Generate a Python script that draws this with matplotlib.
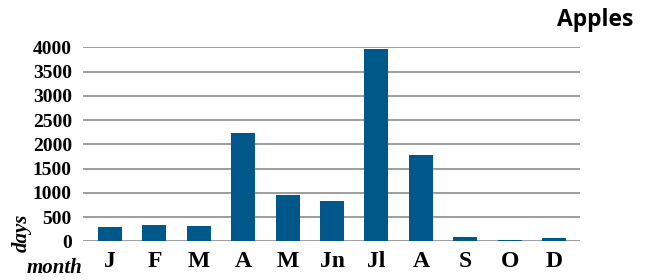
import matplotlib
matplotlib.use('Agg')
import matplotlib.pyplot as plt
import numpy as np

# data
months = ['J', 'F', 'M', 'A', 'M', 'Jn', 'Jl', 'A', 'S', 'O', 'D']
days = [300, 340, 320, 2240, 960, 840, 3970, 1780, 95, 20, 75]
yticks = [0, 500, 1000, 1500, 2000, 2500, 3000, 3500, 4000]

fig = plt.figure(figsize=(6.51, 2.8), dpi=100)
ax = fig.add_axes([83/651, 1-241.3/280, 497/651, 194/280])

x = np.arange(len(months))
ax.bar(x, days, width=0.54, color='#00578a', zorder=3)

ax.set_ylim(0, 4000)
ax.set_xlim(-0.61, len(months) - 1 + 0.586)
ax.set_yticks(yticks)
ax.set_xticks(x)
ax.set_xticklabels(months, fontfamily='Liberation Serif', fontweight='bold', fontsize=17)
for lab in ax.get_yticklabels():
    lab.set_fontfamily('Liberation Serif')
    lab.set_fontweight('bold')
    lab.set_fontsize(14)
ax.tick_params(axis='both', length=0)
ax.tick_params(axis='y', pad=8)
ax.tick_params(axis='x', pad=7)
ax.grid(axis='y', color='#8c8c8c', linewidth=1.2, zorder=0)
for s in ax.spines.values():
    s.set_visible(False)

fig.text(633/651, 1-20/280, 'Apples', ha='right', va='center',
         fontfamily='Open Sans', fontweight='bold', fontsize=16.5)
fig.text(22/651, 1-233/280, 'days', rotation=90, ha='center', va='center',
         fontfamily='Liberation Serif', fontweight='bold', style='italic', fontsize=15)
fig.text(54/651, 1-268/280, 'month', ha='center', va='center',
         fontfamily='Liberation Serif', fontweight='bold', style='italic', fontsize=15)

fig.savefig('out.png', dpi=100)
